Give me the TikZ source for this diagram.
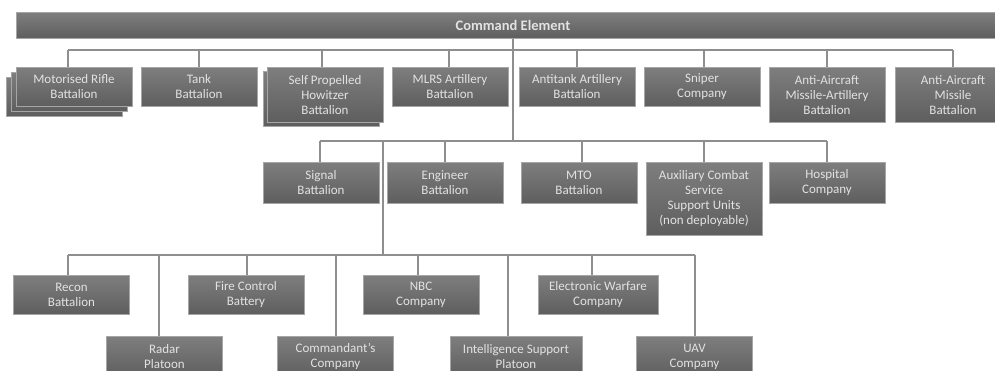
\documentclass[tikz,border=0pt]{standalone}
\usepackage{fontspec}
\setmainfont{Carlito}
\definecolor{boxtop}{HTML}{7E7E7E}
\definecolor{boxbot}{HTML}{5E5E5E}
\definecolor{boxedge}{HTML}{A6A6A6}
\definecolor{boxtext}{HTML}{E2E2E2}
\definecolor{wirec}{HTML}{8E8E8E}
\begin{document}
\begin{tikzpicture}[x=1pt,y=-1pt,
  box/.style={rectangle, draw=boxedge, line width=0.7pt, top color=boxtop, bottom color=boxbot,
    text=boxtext, minimum width=116pt, minimum height=39pt, inner sep=0pt, align=center,
    font=\fontsize{13}{15}\selectfont, anchor=north},
  tall/.style={minimum height=55pt},
  wire/.style={draw=wirec, line width=1.6pt}]
\useasboundingbox (0,0) rectangle (995,370);
\fill[white] (0,0) rectangle (995,370);
\clip (0,0) rectangle (995,370);

% command element
\node[box, minimum width=994pt, minimum height=26pt, font=\bfseries\fontsize{14.5}{16}\selectfont] (cmd) at (513,12) {Command Element};

% bus coordinates
\coordinate (b1L) at (68,50);
\coordinate (b1R) at (953,50);
\coordinate (j2) at (513,141);
\coordinate (b2L) at (320,141);
\coordinate (b2R) at (827,141);
\coordinate (j3a) at (383,141);
\coordinate (j3b) at (383,255);
\coordinate (b3L) at (68,255);
\coordinate (b3R) at (695,255);

% row 1
\node[box] (mot3) at (64,77) {};
\node[box] (mot2) at (69,72) {};
\node[box] (mot) at (74,67) {Motorised Rifle\\Battalion};
\node[box] (tank) at (199,67) {Tank\\Battalion};
\node[box, tall] (sp2) at (321,71) {};
\node[box, tall] (sp) at (325,67) {Self Propelled\\Howitzer\\Battalion};
\node[box] (mlrs) at (450,67) {MLRS Artillery\\Battalion};
\node[box] (atk) at (577,67) {Antitank Artillery\\Battalion};
\node[box] (snp) at (702,67) {Sniper\\Company};
\node[box, tall] (aama) at (827,67) {Anti-Aircraft\\Missile-Artillery\\Battalion};
\node[box, tall] (aam) at (953,67) {Anti-Aircraft\\Missile\\Battalion};

% row 2
\node[box, minimum height=41pt] (sig) at (321,162) {Signal\\Battalion};
\node[box, minimum height=41pt] (eng) at (445,162) {Engineer\\Battalion};
\node[box, minimum height=41pt] (mto) at (579,162) {MTO\\Battalion};
\node[box, minimum height=73pt] (aux) at (704,162) {Auxiliary Combat\\Service\\Support Units\\(non deployable)};
\node[box, minimum height=41pt] (hosp) at (827,162) {Hospital\\Company};

% row 3 upper
\node[box] (recon) at (71.5,275) {Recon\\Battalion};
\node[box] (fire) at (246,275) {Fire Control\\Battery};
\node[box] (nbc) at (421,275) {NBC\\Company};
\node[box, minimum width=120pt] (ew) at (598,275) {Electronic Warfare\\Company};

% row 3 lower
\node[box, minimum height=41pt] (radar) at (164.5,336) {Radar\\Platoon};
\node[box, minimum height=41pt] (comm) at (335.5,336) {Commandant’s\\Company};
\node[box, minimum height=41pt, minimum width=132pt] (intel) at (516,336) {Intelligence Support\\Platoon};
\node[box, minimum height=41pt] (uav) at (694.5,336) {UAV\\Company};

% wires
\draw[wire] (b1L) -- (b1R);
\draw[wire] (cmd.south) -- (j2);
\foreach \n/\x in {mot/68,tank/199,sp/322,mlrs/449,atk/577,snp/704,aama/827,aam/953}
  \draw[wire] (\x,50) -- (\x,50 |- \n.north);
\draw[wire] (b2L) -- (b2R);
\foreach \n/\x in {sig/320,eng/445,mto/582,aux/704,hosp/827}
  \draw[wire] (\x,141) -- (\x,141 |- \n.north);
\draw[wire] (j3a) -- (j3b);
\draw[wire] (b3L) -- (b3R);
\foreach \n/\x in {recon/68,fire/247,nbc/418,ew/592,radar/159,comm/336,intel/508,uav/695}
  \draw[wire] (\x,255) -- (\x,255 |- \n.north);
\end{tikzpicture}
\end{document}
